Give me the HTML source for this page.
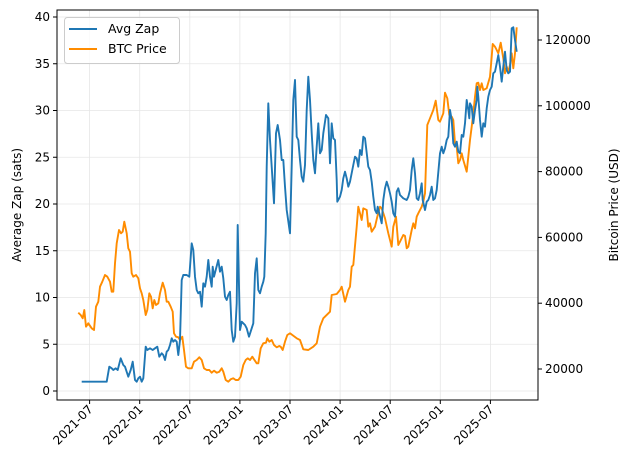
<!DOCTYPE html>
<html><head><meta charset="utf-8"><style>body{margin:0;background:#fff}svg{display:block}text{font-family:"DejaVu Sans","Liberation Sans",sans-serif;font-size:12px;fill:#000}</style></head>
<body>
<svg id="s" width="630" height="470" xmlns="http://www.w3.org/2000/svg">
<g id="grid" stroke="#e6e6e6" stroke-width="0.8"></g>
<polyline id="orange" fill="none" stroke="#ff8c00" stroke-width="1.9" stroke-linejoin="round"/>
<polyline id="blue" fill="none" stroke="#1f77b4" stroke-width="1.9" stroke-linejoin="round"/>
<rect x="57" y="10" width="481" height="390" fill="none" stroke="#000" stroke-width="1"/>
<g id="ticks"></g>
<rect x="64.5" y="17.5" width="115" height="46" rx="3" fill="#fff" fill-opacity="0.8" stroke="#ccc"/>
<line x1="69" y1="29" x2="97" y2="29" stroke="#1f77b4" stroke-width="1.9"/>
<text x="108" y="33" style="font-size:12.5px">Avg Zap</text>
<line x1="69" y1="49" x2="97" y2="49" stroke="#ff8c00" stroke-width="1.9"/>
<text x="108" y="53" style="font-size:12.5px">BTC Price</text>
<text transform="translate(21,205) rotate(-90)" text-anchor="middle">Average Zap (sats)</text>
<text transform="translate(618,205) rotate(-90)" text-anchor="middle">Bitcoin Price (USD)</text>
</svg>
<script>
var NS="http://www.w3.org/2000/svg";
function el(p,t,a,txt){var e=document.createElementNS(NS,t);for(var k in a)e.setAttribute(k,a[k]);if(txt)e.textContent=txt;p.appendChild(e);return e;}
var g=document.getElementById('grid'),tk=document.getElementById('ticks');
var xl=["2021-07","2022-01","2022-07","2023-01","2023-07","2024-01","2024-07","2025-01","2025-07"];
for(var i=0;i<9;i++){var x=89.6+i*50.1;el(g,'line',{x1:x,x2:x,y1:10,y2:400});el(tk,'line',{x1:x,x2:x,y1:400,y2:404,stroke:'#000'});
el(tk,'text',{transform:'translate('+(x+4)+',410) rotate(-45)','text-anchor':'end'},xl[i]);}
for(var v=0;v<=40;v+=5){var y=391-v*9.35;el(g,'line',{x1:57,x2:538,y1:y,y2:y});el(tk,'line',{x1:53,x2:57,y1:y,y2:y,stroke:'#000'});
el(tk,'text',{x:50,y:y+4,'text-anchor':'end'},String(v));}
for(var p=20000;p<=120000;p+=20000){var y=369-(p-20000)/20000*65.8;el(tk,'line',{x1:538,x2:542,y1:y,y2:y,stroke:'#000'});
el(tk,'text',{x:545,y:y+4},String(p));}
function conv(a,ox,lim,b,ox2){var r=[];for(var i=0;i<a.length;i+=2){if(a[i]<=lim)r.push((ox+a[i]/3).toFixed(1)+','+(a[i+1]/3).toFixed(1));}
for(var i=0;i<b.length;i+=2)r.push((ox2+b[i]/3).toFixed(1)+','+(b[i+1]/3).toFixed(1));return r.join(' ');}
var b1=[95,1145,170,1145,178,1100,185,1105,190,1110,197,1105,203,1110,212,1075,220,1095,225,1100,235,1130,242,1110,248,1085,255,1140,260,1145,265,1135,270,1130,275,1145,280,1135,287,1040,292,1050,300,1045,308,1050,315,1045,322,1040,328,1070,335,1060,340,1065,345,1080,350,1055,355,1050,360,1035,365,1015,370,1025,375,1020,380,1025,385,1065,390,1020,395,840,400,825,410,825,418,830,425,730,430,750,435,830,440,870,445,880,450,875,455,920,460,850,465,860,470,830,475,780,480,830,485,860,488,800,492,830,497,810,505,780,510,815,515,800,520,835,525,890,530,900,535,885,540,875,545,990,550,1025,555,1010,560,910,563,675,566,820,570,990,575,965,580,970,585,975,590,985,597,1010,605,985,610,970,615,820,620,775,625,870,630,880,635,860,640,845,643,830,647,700,650,500,655,310,660,420,665,500,672,610,678,400,683,375,690,420,695,480,700,480,705,560,710,630];
var b2=[0,700,5,500,10,300,15,240,20,410,25,420,30,480,35,530,40,545,45,495,50,330,55,230,60,300,65,400,70,480,75,520,80,440,85,370,90,460,95,450,100,400,108,345,115,355,120,490,125,370,130,415,135,420,140,540,142,605,150,590,155,570,160,535,165,515,170,535,175,560,180,545,190,495,195,470,200,475,205,500,210,450,215,465,220,410,225,415,235,500,240,510,245,545,250,590,255,630,260,640,263,620,268,640,275,670,280,600,285,565,290,545,295,560,300,580,305,605,310,640,315,650,320,575,325,565,330,585,340,595,350,600,355,590,360,570,365,510,370,475,375,520,380,595,385,600,390,580,395,550,398,600,405,630,410,605,415,600,420,585,425,560,430,600,435,595,440,570,450,460,455,440,460,460,465,445,470,420,475,410,480,330,485,360,490,430,495,440,500,425,505,455,510,460,515,405,520,410,525,370,530,300,535,330,538,355,540,310,545,320,550,370,555,330,560,300,562,260,565,290,570,360,575,410,580,370,585,380,590,325,595,290,600,270,605,260,610,220,615,215,620,190,625,165,630,200,635,245,640,200,645,155,650,210,655,220,660,215,665,85,670,82,675,120,680,155];
var o1=[85,938,92,945,98,955,103,930,108,980,115,970,125,985,132,990,138,920,145,905,150,860,157,845,165,825,172,830,180,845,185,875,190,875,195,790,200,730,207,690,213,700,218,695,223,665,230,700,235,745,240,755,245,820,250,830,258,825,265,835,270,865,275,880,280,900,287,945,292,930,298,880,303,890,308,925,313,900,318,915,325,910,330,880,338,848,345,870,350,905,355,905,362,920,368,935,372,1000,378,1010,385,1012,390,1020,397,1010,402,1050,408,1100,415,1105,425,1105,432,1085,440,1080,448,1072,455,1080,462,1105,470,1110,478,1110,485,1118,492,1112,500,1118,508,1115,515,1105,520,1115,527,1140,535,1145,542,1138,550,1135,557,1140,565,1140,572,1130,580,1095,587,1080,593,1075,600,1080,607,1070,612,1078,620,1090,625,1090,632,1045,640,1030,648,1028,652,1015,658,1025,665,1020,672,1035,680,1042,688,1038,692,1040,698,1050,705,1025,712,1005];
var o2=[0,1000,20,1015,30,1020,40,1048,55,1050,70,1040,80,1030,90,980,100,955,120,935,125,885,140,882,150,870,155,860,165,905,175,870,180,860,185,800,190,795,200,680,205,620,210,640,215,660,220,625,230,630,235,680,240,670,245,695,255,680,262,650,270,620,275,625,285,655,295,700,305,740,310,680,318,650,325,735,330,725,340,705,345,708,350,745,355,740,365,690,370,670,375,685,380,650,385,640,395,620,400,605,405,580,412,375,420,355,430,330,437,302,445,360,450,365,460,340,465,278,472,295,478,345,485,350,490,360,495,430,500,440,505,490,510,480,515,460,520,480,530,515,535,470,540,420,545,380,550,340,555,290,560,250,565,248,570,270,575,250,580,270,590,265,600,230,605,170,608,132,615,140,620,150,625,160,632,128,640,175,645,220,650,200,655,215,660,195,665,160,670,205,675,160,680,82];
document.getElementById('blue').setAttribute('points',conv(b1,50,712,b2,290));
document.getElementById('orange').setAttribute('points',conv(o1,50,712,o2,290));
</script>
</body></html>
